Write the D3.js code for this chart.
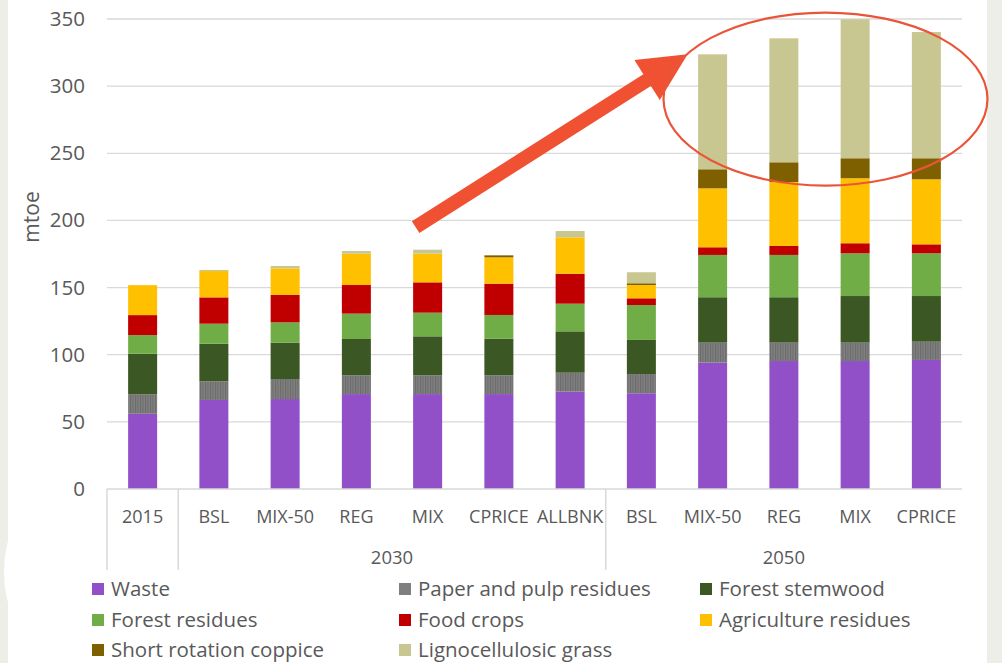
<!DOCTYPE html>
<html><head><meta charset="utf-8">
<script src="https://cdn.jsdelivr.net/npm/d3@7/dist/d3.min.js"></script>
<style>
html,body{margin:0;padding:0;background:#EEEEE8;}
svg{display:block;}
text{font-family:"Open Sans","Liberation Sans",sans-serif;}
</style></head>
<body>
<svg id="chart" width="1002" height="663"></svg>
<script>
// ---- data ----
const categories = ["2015","BSL","MIX-50","REG","MIX","CPRICE","ALLBNK","BSL","MIX-50","REG","MIX","CPRICE"];
const groupOf    = ["", "2030","2030","2030","2030","2030","2030","2050","2050","2050","2050","2050"];
const groupLabels = ["2030","2050"];
const seriesNames = ["Waste","Paper and pulp residues","Forest stemwood","Forest residues","Food crops","Agriculture residues","Short rotation coppice","Lignocellulosic grass"];
const waste      = [56, 66.3, 67, 70.7, 70.7, 70.7, 72.5, 71.3, 94.1, 95.3, 95.3, 96.1];
const paperPulp  = [14.6, 13.9, 14.9, 14, 14, 14, 14.1, 14.3, 14.9, 13.7, 13.7, 13.6];
const stemwood   = [30.1, 28, 27.1, 27, 29, 27.2, 30.8, 25.4, 33.8, 33.8, 34.7, 34];
const forestRes  = [13.9, 14.9, 15.1, 18.9, 17.6, 17.7, 20.6, 26, 31.5, 31.5, 31.8, 31.8];
const foodCrops  = [14.9, 19.6, 20.4, 21.3, 22.6, 23.3, 22.3, 5, 5.7, 6.7, 7.5, 6.7];
const agriRes    = [22.3, 19.6, 19.8, 23.3, 21.3, 19.6, 27.1, 9.9, 43.9, 47.6, 48.4, 48.4];
const coppice    = [0, 0, 0, 0, 0, 1.5, 0, 1.3, 14.2, 14.7, 14.9, 15.7];
const grass      = [0, 0.8, 1.8, 2, 3, 0, 4.7, 8.2, 85.6, 92.3, 103.5, 94];
const yTicks = [0,50,100,150,200,250,300,350];
const colors = ["#9150C8","#7F7F7F","#3B5724","#70AD47","#C00000","#FFC000","#7F6000","#C9C791"];

// ---- layout ----
const svg = d3.select("#chart");
const plot = {left:107, right:962, top:19, bottom:489};

// backgrounds
svg.append("rect").attr("x",8).attr("y",0).attr("width",979).attr("height",663).attr("fill","#FFFFFF");
svg.append("circle").attr("cx",126).attr("cy",572).attr("r",122).attr("fill","#FFFFFF");

const keys = categories.map((c,i)=> i + "|" + c);
const x = d3.scaleBand().domain(keys).range([plot.left, plot.right]).paddingInner(0.593).paddingOuter(0.2965);
const y = d3.scaleLinear().domain([0,350]).range([plot.bottom, plot.top]);

// gridlines
svg.append("g").selectAll("line").data(yTicks.filter(t=>t>0)).join("line")
  .attr("x1",plot.left).attr("x2",plot.right)
  .attr("y1",d=>y(d)).attr("y2",d=>y(d))
  .attr("stroke","#D9D9D9").attr("stroke-width",1.3);

// y axis labels
const yAxis = d3.axisLeft(y).tickValues(yTicks).tickSize(0).tickPadding(22);
const yg = svg.append("g").attr("transform",`translate(${plot.left},0)`).call(yAxis);
yg.select(".domain").remove();
yg.selectAll("text").attr("fill","#595959").style("font-size","20.5px")
  .style("font-family",'"Open Sans","Liberation Sans",sans-serif');

svg.append("text").attr("transform","translate(39,217) rotate(-90)")
  .attr("text-anchor","middle").attr("fill","#595959").style("font-size","21px").text("mtoe");

// pattern for paper & pulp
const defs = svg.append("defs");
const pat = defs.append("pattern").attr("id","stripes").attr("patternUnits","userSpaceOnUse")
  .attr("width",2.5).attr("height",4);
pat.append("rect").attr("width",2.5).attr("height",4).attr("fill","#808080");
pat.append("rect").attr("width",1).attr("height",4).attr("fill","#6A6A6A");

// stacked bars
const seriesArrays = [waste,paperPulp,stemwood,forestRes,foodCrops,agriRes,coppice,grass];
const rows = keys.map((k,i)=>{ const o={key:k}; seriesNames.forEach((s,j)=>o[s]=seriesArrays[j][i]); return o; });
const stacked = d3.stack().keys(seriesNames)(rows);
svg.append("g").selectAll("g").data(stacked).join("g")
  .attr("fill",(d,i)=> i===1 ? "url(#stripes)" : colors[i])
  .selectAll("rect").data(d=>d).join("rect")
  .attr("x",d=>x(d.data.key)).attr("width",x.bandwidth())
  .attr("y",d=>y(d[1])).attr("height",d=>Math.max(0,y(d[0])-y(d[1])));

// x axis line
svg.append("line").attr("x1",plot.left).attr("x2",plot.right).attr("y1",plot.bottom).attr("y2",plot.bottom)
  .attr("stroke","#D9D9D9").attr("stroke-width",1.5);

// category labels
svg.append("g").selectAll("text").data(keys).join("text")
  .attr("x",d=>x(d)+x.bandwidth()/2).attr("y",523)
  .attr("text-anchor","middle").attr("fill","#595959").style("font-size","18px")
  .text((d,i)=>categories[i]);

// group separators
const step = x.step();
const sepIdx = [0];
for(let i=1;i<keys.length;i++){ if(groupOf[i]!==groupOf[i-1]) sepIdx.push(i); }
svg.append("g").selectAll("line").data(sepIdx).join("line")
  .attr("x1",i=>x(keys[i])+x.bandwidth()/2-step/2).attr("x2",i=>x(keys[i])+x.bandwidth()/2-step/2)
  .attr("y1",plot.bottom).attr("y2",570)
  .attr("stroke","#D9D9D9").attr("stroke-width",1.5);

// group labels
groupLabels.forEach(g=>{
  const idx = keys.filter((k,i)=>groupOf[i]===g);
  const x0 = x(idx[0])+x.bandwidth()/2-step/2;
  const x1 = g==="2050" ? plot.right : x(idx[idx.length-1])+x.bandwidth()/2+step/2;
  svg.append("text").attr("x",(x0+x1)/2).attr("y",564).attr("text-anchor","middle")
    .attr("fill","#595959").style("font-size","18.5px").text(g);
});

// legend
const legX = [92, 399, 700];
const legY = [589, 620, 650];
const lg = svg.append("g").selectAll("g").data(seriesNames).join("g")
  .attr("transform",(d,i)=>`translate(${legX[i%3]},${legY[Math.floor(i/3)]})`);
lg.append("rect").attr("x",0).attr("y",-6).attr("width",12).attr("height",12)
  .attr("fill",(d,i)=>colors[i]);
lg.append("text").attr("x",19).attr("y",7).attr("fill","#595959").style("font-size","20.5px").text(d=>d);

// annotation: arrow and ellipse
const tail = [x(keys[4])+x.bandwidth()/2-12, y(195)];
const tip  = [x(keys[8])+x.bandwidth()/2-25, y(323.7)];
const dx = tip[0]-tail[0], dy = tip[1]-tail[1], L = Math.hypot(dx,dy);
const u = [dx/L, dy/L], n = [-u[1], u[0]];
const headLen = 48, headHalf = 23.7, shaftHalf = 7;
const bm = [tip[0]-headLen*u[0], tip[1]-headLen*u[1]];
const pts = [
  [tail[0]+shaftHalf*n[0], tail[1]+shaftHalf*n[1]],
  [bm[0]+shaftHalf*n[0], bm[1]+shaftHalf*n[1]],
  [bm[0]+headHalf*n[0], bm[1]+headHalf*n[1]],
  tip,
  [bm[0]-headHalf*n[0], bm[1]-headHalf*n[1]],
  [bm[0]-shaftHalf*n[0], bm[1]-shaftHalf*n[1]],
  [tail[0]-shaftHalf*n[0], tail[1]-shaftHalf*n[1]]
];
svg.append("polygon").attr("points",pts.map(p=>p.join(",")).join(" ")).attr("fill","#F05133");

svg.append("ellipse")
  .attr("cx",(x(keys[9])+x(keys[10]))/2+x.bandwidth()/2+6).attr("cy",y(290.4))
  .attr("rx",162).attr("ry",86.5)
  .attr("fill","none").attr("stroke","#EA5539").attr("stroke-width",2.2);
</script>
</body></html>
